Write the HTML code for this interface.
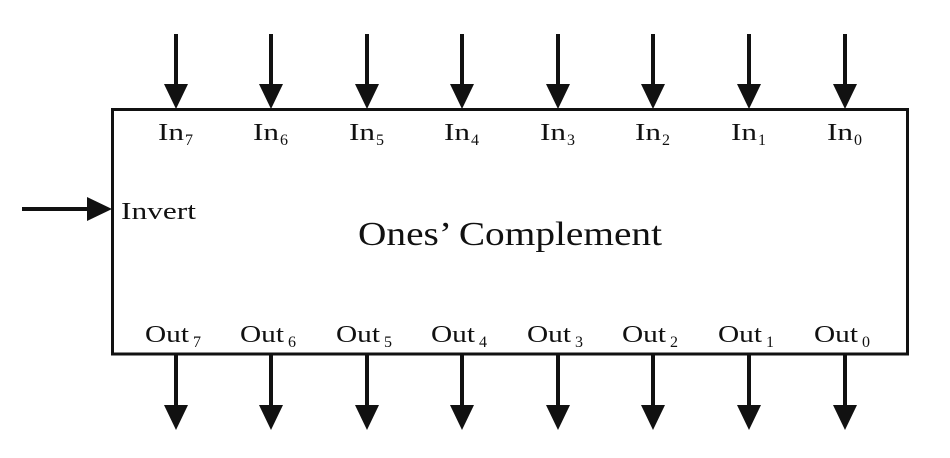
<!DOCTYPE html>
<html><head><style>
html,body{margin:0;padding:0;background:#fff;}
svg{display:block;}
text{font-family:"Liberation Serif",serif;fill:#111;}
</style></head><body>
<svg width="950" height="458" viewBox="0 0 950 458" xmlns="http://www.w3.org/2000/svg">
<rect x="112.5" y="109.5" width="795" height="244.5" fill="none" stroke="#111" stroke-width="3"/>
<g fill="#111">
<rect x="22" y="207" width="68" height="4"/>
<polygon points="87,197 112,209 87,221"/>
<rect x="174" y="34" width="4" height="52"/><polygon points="164,84 188,84 176,109"/>
<rect x="269" y="34" width="4" height="52"/><polygon points="259,84 283,84 271,109"/>
<rect x="365" y="34" width="4" height="52"/><polygon points="355,84 379,84 367,109"/>
<rect x="460" y="34" width="4" height="52"/><polygon points="450,84 474,84 462,109"/>
<rect x="556" y="34" width="4" height="52"/><polygon points="546,84 570,84 558,109"/>
<rect x="651" y="34" width="4" height="52"/><polygon points="641,84 665,84 653,109"/>
<rect x="747" y="34" width="4" height="52"/><polygon points="737,84 761,84 749,109"/>
<rect x="843" y="34" width="4" height="52"/><polygon points="833,84 857,84 845,109"/>

<rect x="174" y="354" width="4" height="53"/><polygon points="164,405 188,405 176,430"/>
<rect x="269" y="354" width="4" height="53"/><polygon points="259,405 283,405 271,430"/>
<rect x="365" y="354" width="4" height="53"/><polygon points="355,405 379,405 367,430"/>
<rect x="460" y="354" width="4" height="53"/><polygon points="450,405 474,405 462,430"/>
<rect x="556" y="354" width="4" height="53"/><polygon points="546,405 570,405 558,430"/>
<rect x="651" y="354" width="4" height="53"/><polygon points="641,405 665,405 653,430"/>
<rect x="747" y="354" width="4" height="53"/><polygon points="737,405 761,405 749,430"/>
<rect x="843" y="354" width="4" height="53"/><polygon points="833,405 857,405 845,430"/>
</g>
<g font-size="24">
<text x="158" y="140" textLength="26" lengthAdjust="spacingAndGlyphs">In</text><text x="185" y="145" font-size="16">7</text>
<text x="253" y="140" textLength="26" lengthAdjust="spacingAndGlyphs">In</text><text x="280" y="145" font-size="16">6</text>
<text x="349" y="140" textLength="26" lengthAdjust="spacingAndGlyphs">In</text><text x="376" y="145" font-size="16">5</text>
<text x="444" y="140" textLength="26" lengthAdjust="spacingAndGlyphs">In</text><text x="471" y="145" font-size="16">4</text>
<text x="540" y="140" textLength="26" lengthAdjust="spacingAndGlyphs">In</text><text x="567" y="145" font-size="16">3</text>
<text x="635" y="140" textLength="26" lengthAdjust="spacingAndGlyphs">In</text><text x="662" y="145" font-size="16">2</text>
<text x="731" y="140" textLength="26" lengthAdjust="spacingAndGlyphs">In</text><text x="758" y="145" font-size="16">1</text>
<text x="827" y="140" textLength="26" lengthAdjust="spacingAndGlyphs">In</text><text x="854" y="145" font-size="16">0</text>

<text x="145" y="342" textLength="44" lengthAdjust="spacingAndGlyphs">Out</text><text x="193" y="347" font-size="16">7</text>
<text x="240" y="342" textLength="44" lengthAdjust="spacingAndGlyphs">Out</text><text x="288" y="347" font-size="16">6</text>
<text x="336" y="342" textLength="44" lengthAdjust="spacingAndGlyphs">Out</text><text x="384" y="347" font-size="16">5</text>
<text x="431" y="342" textLength="44" lengthAdjust="spacingAndGlyphs">Out</text><text x="479" y="347" font-size="16">4</text>
<text x="527" y="342" textLength="44" lengthAdjust="spacingAndGlyphs">Out</text><text x="575" y="347" font-size="16">3</text>
<text x="622" y="342" textLength="44" lengthAdjust="spacingAndGlyphs">Out</text><text x="670" y="347" font-size="16">2</text>
<text x="718" y="342" textLength="44" lengthAdjust="spacingAndGlyphs">Out</text><text x="766" y="347" font-size="16">1</text>
<text x="814" y="342" textLength="44" lengthAdjust="spacingAndGlyphs">Out</text><text x="862" y="347" font-size="16">0</text>
</g>
<text x="121" y="219" font-size="24" textLength="75" lengthAdjust="spacingAndGlyphs">Invert</text>
<text x="358" y="245" font-size="34" textLength="304" lengthAdjust="spacingAndGlyphs">Ones’ Complement</text>
</svg>
</body></html>
